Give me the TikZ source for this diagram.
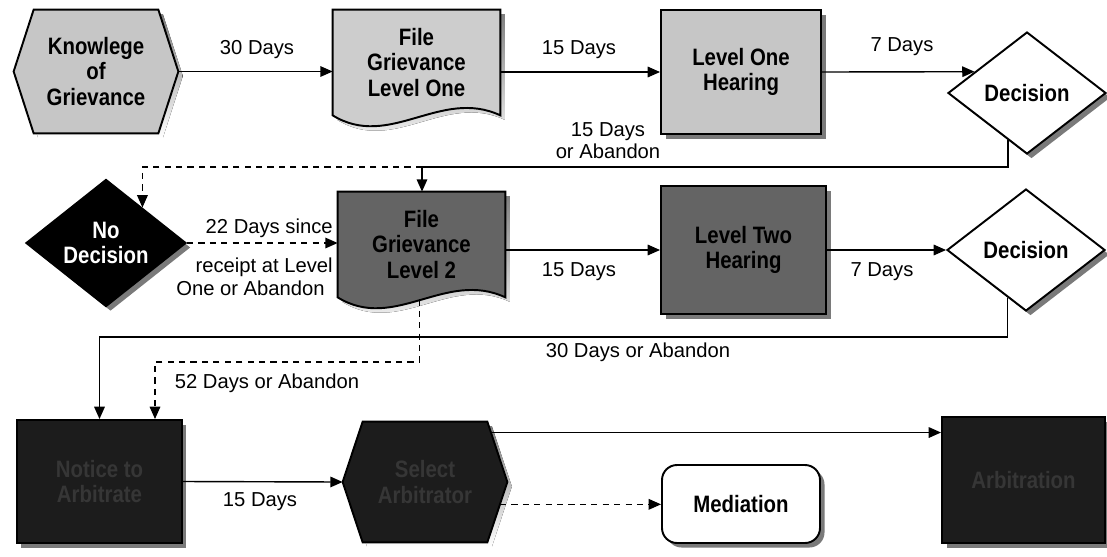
\documentclass[tikz,border=0pt]{standalone}
\usepackage{fontspec}
\setmainfont{Liberation Sans}
\newfontfamily\nodefont[FakeStretch=0.86]{Liberation Sans}
\usetikzlibrary{arrows.meta,calc,shapes.geometric,shadows}
\pgfdeclarelayer{bg}
\pgfsetlayers{bg,main}
\definecolor{lite}{HTML}{C6C6C6}
\definecolor{litedoc}{HTML}{CDCDCD}
\definecolor{mid}{HTML}{646464}
\definecolor{deep}{HTML}{1C1C1C}
\definecolor{shade}{HTML}{7A7A7A}
\definecolor{ghost}{HTML}{363636}
\newcommand{\hexpath}[3]{($(#1.north west)+(#2,0)+(#3,#3)$) -- ($(#1.north east)+(-#2,0)+(#3,#3)$) -- ($(#1.east)+(#3,#3)$) -- ($(#1.south east)+(-#2,0)+(#3,#3)$) -- ($(#1.south west)+(#2,0)+(#3,#3)$) -- ($(#1.west)+(#3,#3)$) -- cycle}
\newcommand{\docpath}[2]{($(#1.north west)+(#2,#2)$) -- ($(#1.north east)+(#2,#2)$) -- ($(#1.south east)+(#2,#2)$) .. controls ($(#1.south east)+(-60,-28)+(#2,#2)$) and ($(#1.south west)+(57,35)+(#2,#2)$) .. ($(#1.south west)+(#2,#2)$) -- cycle}
\tikzset{
  sz/.style 2 args={minimum width=#1*0.02cm, minimum height=#2*0.02cm},
  lbl/.style={font=\fontsize{11.5}{12.5}\selectfont, inner sep=0pt, align=center},
  ntext/.style={font={\nodefont\bfseries\fontsize{13.5}{14.5}\selectfont}, align=center, inner sep=0pt},
  shad/.style={drop shadow={shadow xshift=0.09cm, shadow yshift=-0.09cm, fill=shade, opacity=1}},
  boxn/.style={ntext, draw, line width=1.1pt, rectangle, shad},
  dia/.style={ntext, draw, line width=1.1pt, diamond, shad},
  holder/.style={ntext, rectangle},
  outline/.style={draw, line width=1.1pt},
  conn/.style={line width=0.8pt, -{Triangle[length=7pt,width=6pt]}},
  dconn/.style={conn, dash pattern=on 3.5pt off 3pt},
}
\begin{document}
\begin{tikzpicture}[x=0.02cm, y=-0.02cm]
\useasboundingbox (0,0) rectangle (1107,556);
\begin{pgfonlayer}{bg}
  \fill[white] (0,0) rectangle (1107,556);
\end{pgfonlayer}

% nodes
\node[holder, sz={164}{123}] (hk) at (96,71.5) {Knowlege\\of\\Grievance};
\node[holder, sz={167}{105}] (f1) at (416.5,62.5) {File\\Grievance\\Level One};
\node[boxn, fill=lite, sz={160}{124}] (h1) at (741,72) {Level One\\Hearing};
\node[dia, fill=white, sz={158}{122}] (d1) at (1027,93) {Decision};
\node[dia, fill=black, text=white, sz={160}{120}] (nd) at (106,243) {No\\Decision};
\node[holder, sz={167}{105}] (f2) at (421.5,244.5) {File\\Grievance\\Level 2};
\node[boxn, fill=mid, sz={165}{128}] (h2) at (743.5,250) {Level Two\\Hearing};
\node[dia, fill=white, sz={158}{122}] (d2) at (1026,250) {Decision};
\node[boxn, fill=deep, text=ghost, sz={165}{123}] (na) at (99.5,481.5) {Notice to\\Arbitrate};
\node[holder, text=ghost, sz={164}{120}] (sa) at (425,482) {Select\\Arbitrator};
\node[boxn, fill=white, rounded corners=0.3cm, sz={158}{78}] (med) at (741,504) {Mediation};
\node[boxn, fill=deep, text=ghost, sz={163}{126}] (ar) at (1023.5,480) {Arbitration};

% custom shapes
\begin{pgfonlayer}{bg}
  \fill[shade] \hexpath{hk}{20}{4.5};
  \filldraw[fill=lite, outline] \hexpath{hk}{20}{0};
  \fill[shade] \docpath{f1}{4.5};
  \filldraw[fill=litedoc, outline] \docpath{f1}{0};
  \fill[shade] \docpath{f2}{4.5};
  \filldraw[fill=mid, outline] \docpath{f2}{0};
  \fill[shade] \hexpath{sa}{20}{4.5};
  \filldraw[fill=deep, outline] \hexpath{sa}{20}{0};
\end{pgfonlayer}

% connectors
\draw[conn] (hk.east) -- (hk.east -| f1.west);
\draw[conn] (f1.east |- h1.west) -- (h1.west);
\coordinate (d1q) at ($(d1.west)!0.344!(d1.north)$);
\draw[conn] (h1.east) -- (d1q);
\coordinate (d1p) at ($(d1.south)!0.24!(d1.west)$);
\coordinate (j1) at (422,167);
\draw[conn] (d1p) |- (j1) -- (j1 |- f2.north);
\coordinate (ndp) at ($(nd.north)!0.45!(nd.east)$);
\draw[dconn] (j1) -| (ndp);
\draw[dconn] (nd.east) -- (nd.east -| f2.west);
\draw[conn] (f2.east |- h2.west) -- (h2.west);
\draw[conn] (h2.east) -- (d2.west);
\coordinate (d2p) at ($(d2.south)!0.23!(d2.west)$);
\coordinate (j2) at (99.5,337);
\draw[conn] (d2p) |- (j2) -- (na.north);
\coordinate (f2b) at ($(f2.south)+(-2,2)$);
\coordinate (j3) at (419.5,362);
\coordinate (j4) at (155,362);
\draw[dconn] (f2b) -- (j3) -- (j4) -- (j4 |- na.north);
\draw[conn] (na.east) -- (sa.west);
\coordinate (sane) at ($(sa.north east)+(-20,0)$);
\coordinate (sap) at ($(sane)!0.18!(sa.east)$);
\draw[conn] (sap) -- (sap -| ar.west);
\coordinate (sase) at ($(sa.south east)+(-20,0)$);
\coordinate (sbp) at ($(sa.east)!0.37!(sase)$);
\draw[dconn] (sbp) -- (sbp -| med.west);

% labels
\node[lbl] (l1) at (257,50) {30 Days};
\node[lbl] (l2) at (579,50) {15 Days};
\node[lbl] (l3) at (902,47) {7 Days};
\node[lbl] (l4) at (608,141) {15 Days\\or Abandon};
\node[lbl, anchor=east] (l5) at (333,228) {22 Days since};
\node[lbl, anchor=east] (l6) at (333,267) {receipt at Level};
\node[lbl, anchor=east] (l7) at (325,288) {One or Abandon};
\node[lbl] (l8) at (579,272) {15 Days};
\node[lbl] (l9) at (882,272) {7 Days};
\node[lbl] (l10) at (638,352) {30 Days or Abandon};
\node[lbl] (l11) at (267,383) {52 Days or Abandon};
\node[lbl] (l12) at (260,502) {15 Days};
\end{tikzpicture}
\end{document}
